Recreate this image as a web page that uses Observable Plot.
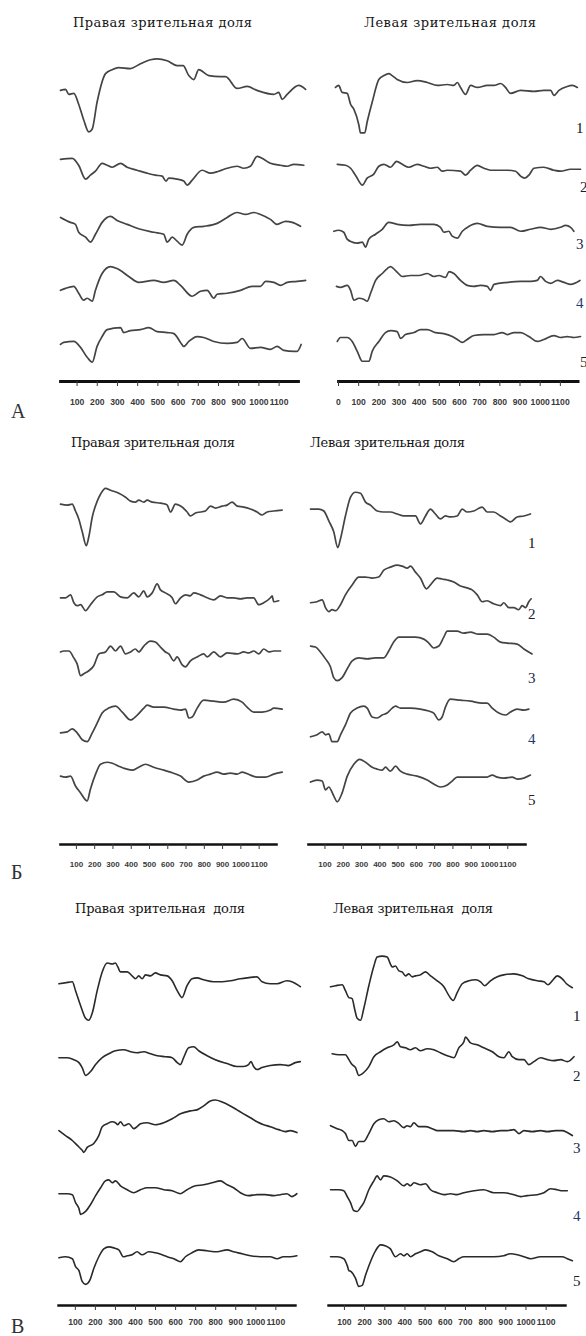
<!DOCTYPE html>
<html>
<head>
<meta charset="utf-8">
<script src="https://cdn.jsdelivr.net/npm/d3@7"></script>
<script src="https://cdn.jsdelivr.net/npm/@observablehq/plot@0.6"></script>
<style>
  html, body { margin: 0; padding: 0; background: #fff; }
  #page { position: relative; width: 586px; height: 1336px; overflow: hidden; background: #fff; }
  #page svg { position: absolute; }
</style>
</head>
<body>
<div id="page"></div>
<script>
// Visual evoked potentials: time in ms, amplitude (arbitrary units, up = positive),
// five leads per lobe, three recording series (А, Б, В).

// ---- Series А, right visual lobe ----
const aR1 = [[18,2],[43,3],[59,-2],[84,-1],[108,-12],[133,-28],[158,-40],[175,-37],[199,-10],[241,19],[274,23],[306,25],[364,24],[405,28],[463,33],[496,34],[546,32],[595,27],[625,27],[653,17],[678,13],[702,23],[752,17],[810,16],[835,16],[892,4],[942,6],[991,2],[1074,-2],[1098,0],[1115,-7],[1140,-2],[1197,7],[1231,3]];
const aR2 = [[18,-3],[76,-2],[108,-9],[142,-23],[166,-19],[191,-15],[224,-7],[249,-9],[274,-11],[315,-7],[348,-11],[397,-14],[447,-17],[488,-19],[521,-20],[540,-25],[554,-22],[595,-23],[628,-25],[645,-29],[670,-24],[719,-14],[760,-17],[801,-15],[843,-12],[892,-10],[925,-12],[958,-10],[991,0],[1024,-3],[1057,-7],[1107,-9],[1140,-10],[1173,-8],[1222,-9]];
const aR3 = [[18,3],[67,-2],[92,-4],[108,-12],[142,-17],[166,-22],[191,-14],[224,-2],[265,4],[298,0],[348,-4],[414,-9],[480,-12],[529,-14],[546,-22],[571,-17],[595,-21],[620,-25],[645,-14],[678,-7],[727,-6],[793,-3],[843,3],[892,8],[934,6],[975,8],[1008,6],[1057,1],[1090,-4],[1132,-1],[1165,-2],[1206,-6]];
const aR4 = [[18,-6],[43,-4],[84,-2],[108,-9],[133,-16],[150,-14],[175,-17],[191,-6],[224,11],[265,18],[298,16],[356,8],[405,2],[480,4],[529,2],[579,4],[612,-1],[670,-12],[711,-7],[744,-6],[777,-14],[793,-10],[843,-9],[909,-6],[967,-2],[1008,-2],[1033,3],[1074,2],[1107,-1],[1140,2],[1189,3],[1231,4]];
const aR5 = [[18,4],[34,6],[84,7],[117,1],[150,-9],[175,-14],[199,2],[224,12],[249,19],[315,21],[331,16],[364,18],[414,19],[455,21],[496,17],[546,16],[579,15],[612,6],[628,2],[653,7],[694,12],[727,11],[777,7],[843,5],[892,6],[917,10],[958,0],[1008,1],[1057,-1],[1090,2],[1123,-2],[1173,-3],[1189,-3],[1209,4]];

// ---- Series А, left visual lobe ----
const aL1 = [[-15,5],[1,7],[18,0],[43,-1],[60,-12],[76,-17],[101,-33],[109,-41],[130,-41],[142,-30],[167,-10],[200,13],[225,17],[249,19],[266,17],[291,13],[341,10],[390,12],[440,10],[490,7],[539,8],[572,7],[589,10],[605,5],[630,-2],[655,7],[688,5],[738,7],[771,7],[804,9],[828,5],[853,-1],[903,2],[969,1],[1018,2],[1052,2],[1068,-3],[1093,2],[1134,6],[1159,7],[1184,5]];
const aL2 = [[-6,-8],[35,-9],[60,-12],[84,-19],[118,-29],[142,-22],[175,-18],[200,-10],[225,-8],[258,-11],[288,-5],[316,-8],[349,-11],[390,-8],[423,-10],[456,-12],[490,-11],[514,-15],[539,-14],[605,-15],[630,-19],[655,-14],[688,-9],[721,-12],[754,-14],[837,-14],[878,-15],[903,-20],[922,-22],[944,-19],[969,-12],[1018,-11],[1068,-14],[1101,-15],[1151,-13],[1200,-13]];
const aL3 = [[-23,-11],[1,-10],[26,-12],[43,-19],[68,-22],[93,-23],[118,-22],[134,-27],[150,-19],[184,-14],[217,-9],[249,-2],[291,-4],[349,-5],[407,-4],[473,-4],[506,-7],[522,-12],[547,-11],[564,-16],[589,-18],[614,-11],[647,-6],[688,-3],[738,-6],[804,-7],[853,-7],[903,-11],[952,-9],[1002,-7],[1052,-9],[1101,-7],[1126,-5],[1151,-7],[1167,-11]];
const aL4 = [[-10,-2],[10,-3],[43,-1],[60,-6],[76,-16],[101,-14],[125,-15],[142,-17],[159,-9],[184,4],[217,11],[242,16],[258,18],[283,14],[316,8],[357,9],[399,9],[440,11],[473,8],[498,9],[531,7],[548,13],[572,11],[605,4],[638,-1],[671,-2],[704,-1],[738,-2],[754,-6],[771,0],[837,2],[903,3],[952,3],[985,4],[1002,8],[1027,3],[1052,1],[1085,4],[1118,2],[1151,0],[1197,4]];
const aL5 = [[-6,7],[10,11],[43,11],[68,7],[93,-3],[118,-13],[151,-13],[167,-3],[200,7],[233,16],[258,18],[291,17],[308,10],[332,14],[374,16],[407,19],[440,19],[481,16],[522,15],[564,12],[589,9],[614,6],[638,9],[671,13],[721,14],[771,14],[812,16],[837,14],[870,16],[903,16],[944,12],[985,7],[1018,9],[1068,13],[1101,11],[1134,12],[1167,11],[1200,12]];

// ---- Series Б, right visual lobe ----
const bR1 = [[13,14],[50,13],[77,14],[95,7],[113,-1],[132,-14],[154,-28],[168,-19],[187,1],[214,17],[232,24],[259,30],[287,28],[332,25],[369,21],[396,17],[423,16],[441,18],[469,16],[487,18],[515,16],[560,15],[587,14],[597,13],[615,6],[642,14],[670,12],[706,6],[724,2],[752,5],[779,6],[806,7],[834,12],[861,10],[898,12],[925,13],[952,16],[980,12],[1016,11],[1052,9],[1089,6],[1116,3],[1144,6],[1180,7],[1226,8]];
const bR2 = [[13,-12],[40,-12],[68,-9],[86,-17],[104,-20],[123,-19],[150,-25],[177,-19],[214,-11],[241,-9],[269,-6],[305,-6],[341,-11],[378,-12],[414,-7],[441,-11],[469,-5],[487,-11],[515,-7],[542,2],[560,-4],[587,-7],[624,-12],[642,-18],[670,-12],[697,-9],[724,-10],[742,-7],[779,-9],[816,-12],[852,-14],[888,-10],[925,-12],[961,-12],[998,-13],[1034,-12],[1070,-12],[1098,-19],[1125,-17],[1162,-12],[1171,-10],[1180,-16],[1207,-15]];
const bR3 = [[13,2],[31,3],[59,3],[86,-4],[104,-10],[123,-22],[141,-20],[168,-17],[195,-12],[223,0],[259,2],[287,8],[314,3],[341,8],[369,0],[396,2],[423,5],[441,2],[469,8],[505,13],[532,12],[560,7],[587,2],[606,0],[633,-7],[651,-3],[679,-11],[697,-13],[724,-7],[761,-3],[797,0],[816,-3],[852,2],[888,-3],[925,1],[980,0],[1016,2],[1043,1],[1070,3],[1098,0],[1125,5],[1153,2],[1180,3],[1217,3]];
const bR4 = [[13,-11],[50,-10],[77,-7],[104,-11],[132,-18],[159,-20],[187,-11],[214,-1],[241,9],[277,14],[314,16],[351,10],[396,2],[433,7],[469,14],[487,17],[523,15],[578,15],[633,13],[670,12],[697,13],[715,4],[734,5],[761,14],[797,22],[852,21],[906,20],[961,23],[1007,20],[1034,15],[1070,10],[1116,10],[1162,12],[1180,14],[1226,13]];
const bR5 = [[13,14],[40,13],[68,14],[95,4],[123,-3],[159,-11],[177,1],[205,16],[232,26],[269,28],[296,27],[332,24],[359,22],[405,20],[441,23],[478,26],[523,23],[578,20],[615,18],[670,14],[715,8],[761,10],[797,14],[834,16],[870,18],[906,16],[943,17],[980,16],[1007,18],[1052,15],[1089,13],[1134,13],[1180,16],[1226,18]];

// ---- Series Б, left visual lobe ----
const bL1 = [[21,9],[66,9],[94,7],[121,-3],[148,-14],[170,-30],[185,-21],[212,2],[240,21],[267,26],[294,25],[322,16],[349,13],[386,7],[422,6],[458,6],[495,4],[531,2],[568,2],[595,2],[622,-6],[650,2],[677,9],[704,4],[732,-1],[759,2],[786,1],[823,2],[851,9],[878,6],[914,7],[960,11],[987,6],[1023,6],[1060,2],[1087,-1],[1115,-4],[1151,1],[1188,2],[1224,4]];
const bL2 = [[21,-17],[57,-16],[85,-14],[103,-22],[121,-26],[139,-24],[158,-25],[185,-19],[212,-9],[249,1],[285,9],[322,9],[358,8],[394,9],[422,16],[458,19],[495,21],[522,20],[550,18],[568,20],[595,14],[622,8],[655,-3],[677,1],[714,8],[741,7],[769,6],[805,4],[841,0],[878,-2],[905,-4],[933,-9],[960,-16],[987,-15],[1023,-18],[1060,-20],[1078,-17],[1106,-22],[1133,-22],[1160,-24],[1179,-20],[1197,-22],[1215,-16],[1228,-13]];
const bL3 = [[21,8],[48,7],[75,2],[103,-5],[130,-13],[148,-24],[167,-27],[194,-24],[222,-15],[249,-7],[285,-4],[331,-5],[376,-4],[422,-4],[449,3],[476,12],[504,17],[550,17],[595,17],[641,15],[668,11],[695,6],[723,8],[750,17],[769,23],[823,23],[859,21],[896,22],[941,20],[987,20],[1023,17],[1060,12],[1097,11],[1151,10],[1188,5],[1233,0]];
const bL4 = [[21,-15],[57,-13],[85,-10],[103,-13],[121,-12],[139,-20],[167,-20],[185,-13],[212,-3],[240,9],[276,14],[312,16],[331,14],[358,5],[386,4],[413,7],[440,9],[468,14],[486,16],[513,14],[568,14],[622,13],[668,11],[695,9],[723,2],[741,5],[759,15],[786,23],[841,22],[896,21],[960,19],[987,19],[1015,14],[1051,9],[1087,7],[1115,10],[1151,13],[1188,12],[1215,13]];
const bL5 = [[21,8],[57,10],[85,9],[103,0],[121,3],[148,-6],[167,-12],[194,-3],[222,14],[258,26],[290,31],[322,28],[358,23],[386,21],[413,20],[431,23],[458,19],[486,24],[513,19],[550,16],[604,14],[659,10],[695,6],[732,3],[769,5],[796,9],[823,13],[878,13],[933,13],[987,13],[1015,15],[1042,13],[1078,12],[1124,13],[1151,11],[1188,12],[1224,15]];

// ---- Series В, right visual lobe ----
const vR1 = [[18,4],[51,5],[85,6],[101,-3],[126,-18],[151,-31],[167,-33],[184,-26],[209,-3],[234,16],[259,25],[284,24],[300,25],[312,21],[325,16],[359,16],[383,12],[400,9],[416,12],[433,9],[450,13],[475,12],[499,15],[524,13],[558,12],[583,7],[608,-3],[632,-10],[657,2],[682,9],[707,10],[740,8],[790,6],[832,6],[873,7],[923,9],[956,10],[1006,11],[1031,6],[1072,4],[1106,4],[1155,7],[1180,6],[1222,1]];
const vR2 = [[18,-2],[60,-2],[93,-4],[118,-7],[134,-12],[151,-20],[176,-16],[201,-9],[234,-2],[267,2],[300,5],[342,6],[375,4],[408,3],[441,4],[475,2],[508,0],[549,-1],[583,-2],[608,-7],[624,-9],[640,-2],[665,8],[690,9],[715,5],[757,0],[798,-4],[857,-8],[906,-11],[939,-11],[964,-9],[976,-6],[989,-11],[1006,-14],[1031,-12],[1072,-10],[1122,-9],[1163,-10],[1197,-7],[1222,-6]];
const vR3 = [[18,-7],[51,-12],[85,-17],[110,-22],[134,-27],[142,-29],[159,-24],[192,-20],[217,-12],[234,-3],[259,0],[284,2],[300,1],[312,-1],[325,2],[342,-2],[367,0],[391,-5],[408,-3],[425,0],[458,1],[499,-1],[541,1],[583,5],[624,10],[674,13],[707,14],[740,18],[773,23],[798,24],[832,22],[873,18],[906,14],[939,10],[973,6],[1006,2],[1039,-1],[1072,-3],[1114,-6],[1147,-8],[1172,-7],[1205,-9]];
const vR4 = [[18,-2],[60,-2],[85,-3],[101,-11],[118,-17],[126,-23],[151,-20],[176,-13],[201,-4],[226,4],[250,11],[267,12],[284,9],[300,11],[325,6],[359,2],[391,-1],[425,2],[458,4],[499,4],[541,2],[583,1],[624,-2],[657,2],[699,6],[740,7],[782,9],[823,11],[857,7],[889,4],[923,-1],[964,-4],[1006,-3],[1047,-3],[1089,-4],[1122,-3],[1155,-2],[1180,-5],[1205,-2]];
const vR5 = [[18,2],[51,3],[85,1],[101,-7],[118,-11],[134,-22],[151,-25],[172,-21],[192,-9],[217,3],[242,11],[267,13],[292,12],[317,10],[339,3],[359,4],[383,5],[408,8],[433,5],[466,8],[499,7],[533,5],[558,3],[591,1],[624,-2],[649,3],[682,7],[715,10],[757,9],[807,8],[857,10],[889,8],[931,6],[973,4],[1022,3],[1072,3],[1106,1],[1138,3],[1172,3],[1205,4]];

// ---- Series В, left visual lobe ----
const vL1 = [[31,1],[56,2],[89,3],[105,-3],[122,-10],[138,-11],[150,-21],[163,-31],[180,-33],[196,-21],[221,2],[246,22],[262,31],[287,32],[312,31],[328,24],[337,21],[353,22],[370,17],[386,16],[403,12],[419,14],[436,11],[452,12],[477,13],[502,16],[527,12],[560,7],[593,1],[618,-8],[639,-13],[659,-5],[684,4],[717,7],[750,8],[775,6],[795,2],[824,7],[858,11],[890,13],[940,14],[982,12],[1014,9],[1056,7],[1089,6],[1109,3],[1130,7],[1155,12],[1180,9],[1201,4],[1230,0]];
const vL2 = [[39,2],[72,1],[105,1],[122,-4],[138,-9],[155,-12],[171,-20],[196,-17],[221,-11],[246,-1],[279,4],[312,8],[345,11],[362,14],[378,9],[403,8],[427,6],[452,8],[477,5],[510,7],[543,6],[576,3],[610,0],[643,-2],[667,8],[692,14],[700,19],[725,13],[758,11],[791,8],[833,4],[866,-1],[891,-2],[915,4],[932,-1],[965,-4],[990,-4],[1014,-9],[1039,-6],[1072,-2],[1106,-4],[1138,-5],[1172,-4],[1205,-6],[1238,-1]];
const vL3 = [[31,-2],[64,-5],[89,-7],[105,-10],[122,-17],[138,-17],[155,-23],[171,-18],[196,-18],[221,-10],[246,0],[270,4],[295,5],[320,2],[345,3],[370,0],[394,-4],[411,-2],[428,-3],[444,1],[469,-3],[502,-3],[535,-5],[560,-7],[593,-7],[642,-7],[692,-8],[725,-7],[758,-8],[791,-7],[833,-8],[874,-7],[907,-7],[940,-6],[965,-10],[990,-7],[1031,-8],[1072,-7],[1106,-8],[1147,-7],[1180,-7],[1205,-9],[1230,-12]];
const vL4 = [[31,2],[72,2],[97,1],[114,-5],[130,-11],[146,-19],[163,-20],[180,-16],[196,-11],[221,2],[246,11],[262,16],[279,12],[295,16],[328,15],[362,11],[394,6],[411,8],[428,6],[444,9],[477,7],[502,8],[527,2],[560,-1],[593,-3],[626,-2],[659,-3],[692,-1],[742,1],[791,2],[841,-1],[890,-1],[940,-3],[973,-5],[1006,-4],[1056,-3],[1089,-1],[1122,3],[1155,2],[1180,1],[1205,1]];
const vL5 = [[31,3],[64,3],[97,1],[114,-6],[122,-11],[133,-12],[155,-19],[171,-27],[188,-26],[204,-16],[229,-2],[254,9],[279,15],[304,14],[328,11],[353,3],[378,6],[394,4],[411,6],[428,3],[452,6],[477,8],[502,10],[535,8],[568,4],[610,1],[642,-2],[667,1],[692,3],[742,3],[791,3],[841,3],[890,4],[923,6],[957,5],[990,3],[1023,1],[1072,3],[1122,3],[1155,3],[1180,3],[1205,1],[1230,-1]];

// Tick values (ms) along each time axis
const ticksFrom100 = [100, 200, 300, 400, 500, 600, 700, 800, 900, 1000, 1100];
const ticksFrom0 = [0, 100, 200, 300, 400, 500, 600, 700, 800, 900, 1000, 1100];

// Texts
const lobeTitles = ["Правая зрительная доля", "Левая зрительная доля"];
const lobeTitlesV = ["Правая зрительная  доля", "Левая зрительная  доля"];
const seriesLetters = ["А", "Б", "В"];
const leadNumbers = ["1", "2", "3", "4", "5"];

// ---- layout ----
const page = document.getElementById("page");
const fmt = d3.format("d");

// per series: axis baseline (page px), facet pitch, distance of lead-5 zero line above the axis
const series = [
  {axisY: 382.5, pitch: 64.75, below: 33.5, axisWidth: 2.8, tickPadding: 12, fontSize: 8.6, stroke: "#444", lineWidth: 1.7},
  {axisY: 846, pitch: 68.8, below: 55.2, axisWidth: 2.6, tickPadding: 12, fontSize: 8, stroke: "#444", lineWidth: 1.7},
  {axisY: 1307.5, pitch: 68.9, below: 46.4, axisWidth: 2.4, tickPadding: 8, fontSize: 8.6, stroke: "#2a2a2a", lineWidth: 1.6}
];

const columns = [
  {s: 0, traces: [aR1, aR2, aR3, aR4, aR5], ticks: ticksFrom100, domain: [18, 1196], left: 30, width: 290, ml: 30, mr: 22},
  {s: 0, traces: [aL1, aL2, aL3, aL4, aL5], ticks: ticksFrom0, domain: [0, 1188], left: 320, width: 266, ml: 18, mr: 8.4},
  {s: 1, traces: [bR1, bR2, bR3, bR4, bR5], ticks: ticksFrom100, domain: [13, 1195], left: 30, width: 270, ml: 30, mr: 24},
  {s: 1, traces: [bL1, bL2, bL3, bL4, bL5], ticks: ticksFrom100, domain: [10, 1197], left: 290, width: 260, ml: 18, mr: 25},
  {s: 2, traces: [vR1, vR2, vR3, vR4, vR5], ticks: ticksFrom100, domain: [16, 1198], left: 30, width: 280, ml: 28, mr: 15},
  {s: 2, traces: [vL1, vL2, vL3, vL4, vL5], ticks: ticksFrom100, domain: [21, 1196], left: 310, width: 276, ml: 18, mr: 21}
];

const MT = 40, MB = 36;

for (const col of columns) {
  const s = series[col.s];
  const rows = col.traces.flatMap((trace, i) => trace.map(([t, v]) => ({lead: i + 1, t, v})));
  const chart = Plot.plot({
    width: col.width,
    height: MT + 5 * s.pitch + MB,
    marginLeft: col.ml, marginRight: col.mr, marginTop: MT, marginBottom: MB,
    facet: {marginTop: 0, marginRight: 0, marginBottom: 0, marginLeft: 0},
    style: {background: "transparent", overflow: "visible", fontFamily: "'Liberation Sans', Arial, sans-serif"},
    x: {domain: col.domain},
    y: {domain: [-s.below, s.pitch - s.below], axis: null},
    fy: {domain: [1, 2, 3, 4, 5], padding: 0, axis: null},
    marks: [
      Plot.line(rows, {x: "t", y: "v", fy: "lead", curve: "monotone-x", stroke: s.stroke, strokeWidth: s.lineWidth, strokeLinejoin: "round", strokeLinecap: "round"}),
      Plot.frame({anchor: "bottom", facetAnchor: "bottom", stroke: "#111", strokeWidth: s.axisWidth}),
      Plot.axisX({ticks: col.ticks, tickFormat: fmt, tickSize: 5, tickPadding: s.tickPadding, facetAnchor: "bottom", label: null, fontSize: s.fontSize, fontWeight: "bold", color: "#3a3a3a"})
    ]
  });
  chart.style.left = col.left + "px";
  chart.style.top = (s.axisY - MT - 5 * s.pitch) + "px";
  page.appendChild(chart);
}

// ---- text layer: lobe titles, series letters, lead numbers ----
const overlay = d3.create("svg")
  .attr("width", 586).attr("height", 1336)
  .style("left", "0px").style("top", "0px")
  .style("pointer-events", "none");

const titleRows = [
  {texts: lobeTitles, y: 27, at: [[73, 179], [364, 172]]},
  {texts: lobeTitles, y: 447, at: [[71, 164], [310, 155]]},
  {texts: lobeTitlesV, y: 913, at: [[75, 170], [333, 160]]}
];
for (const row of titleRows) {
  row.texts.forEach((txt, i) => {
    overlay.append("text")
      .attr("x", row.at[i][0]).attr("y", row.y)
      .attr("textLength", row.at[i][1]).attr("lengthAdjust", "spacing")
      .attr("font-family", "'DejaVu Serif', serif").attr("font-size", 13)
      .attr("fill", "#151515").style("white-space", "pre")
      .text(txt);
  });
}

const letterRows = [{x: 11, y: 418}, {x: 11, y: 879}, {x: 11, y: 1333}];
seriesLetters.forEach((ch, i) => {
  overlay.append("text")
    .attr("x", letterRows[i].x).attr("y", letterRows[i].y)
    .attr("font-family", "'Liberation Serif', serif").attr("font-size", 20)
    .attr("fill", "#333").text(ch);
});

const numberCols = [
  {x: [576, 580, 576, 576, 580], y: [133, 192, 249, 308, 367]},
  {x: [528, 528, 528, 528, 528], y: [548, 619, 683, 744, 805]},
  {x: [573, 573, 573, 573, 573], y: [1021, 1081, 1153, 1221, 1286]}
];
const numberFill = ["#111", "#1b2238", "#1b2a4a", "#1f3a6e", "#222"];
numberCols.forEach(nc => {
  leadNumbers.forEach((n, i) => {
    overlay.append("text")
      .attr("x", nc.x[i]).attr("y", nc.y[i])
      .attr("font-family", "'Liberation Serif', serif").attr("font-size", 15)
      .attr("fill", numberFill[i]).text(n);
  });
});

page.appendChild(overlay.node());
</script>
</body>
</html>
